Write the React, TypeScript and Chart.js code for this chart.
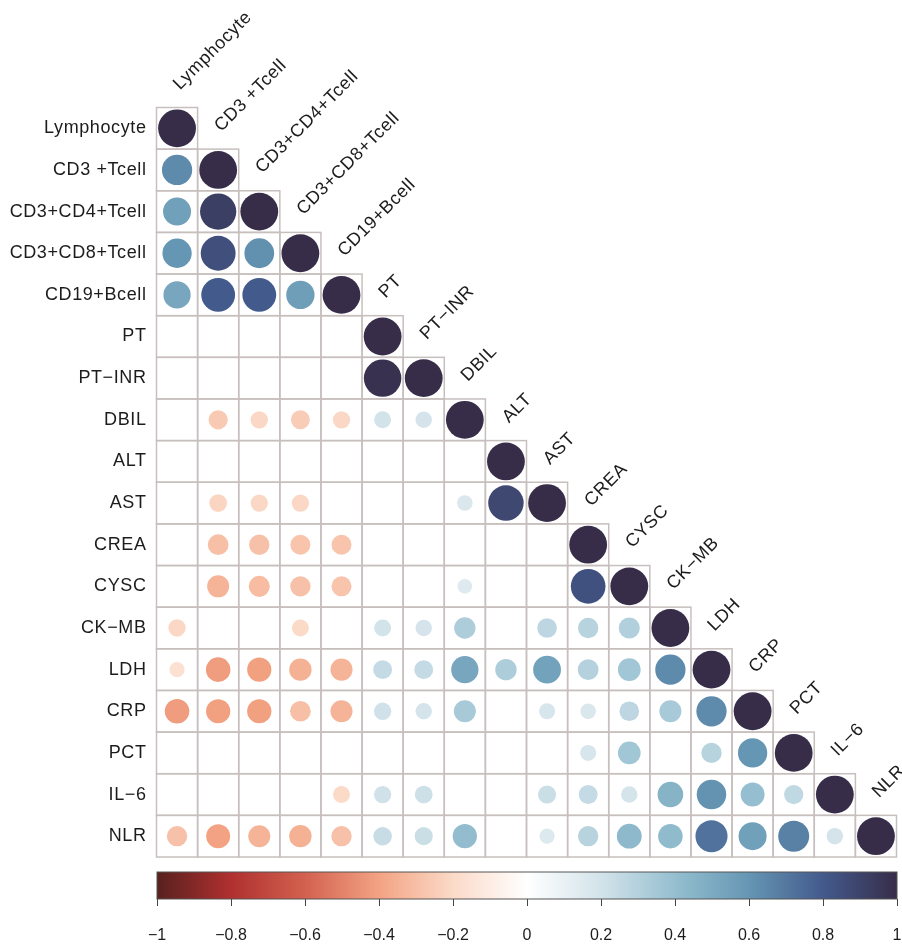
import React, { useEffect, useRef } from 'react';
import { Chart, registerables } from 'chart.js';

Chart.register(...registerables);

const variables: string[] = [
  'Lymphocyte', 'CD3 +Tcell', 'CD3+CD4+Tcell', 'CD3+CD8+Tcell', 'CD19+Bcell',
  'PT', 'PT\u2212INR', 'DBIL', 'ALT', 'AST', 'CREA', 'CYSC', 'CK\u2212MB',
  'LDH', 'CRP', 'PCT', 'IL\u22126', 'NLR',
];

const n = null;
// lower-triangular correlation rows (null = blank cell)
const corrRows: (number | null)[][] = [
  [1],
  [0.64, 1],
  [0.55, 0.92, 1],
  [0.6, 0.85, 0.62, 1],
  [0.52, 0.8, 0.8, 0.56, 1],
  [n, n, n, n, n, 1],
  [n, n, n, n, n, 0.98, 1],
  [n, -0.26, -0.21, -0.25, -0.21, 0.2, 0.19, 1],
  [n, n, n, n, n, n, n, n, 1],
  [n, -0.22, -0.21, -0.21, n, n, n, 0.17, 0.88, 1],
  [n, -0.3, -0.29, -0.28, -0.28, n, n, n, n, n, 1],
  [n, -0.34, -0.31, -0.29, -0.28, n, n, 0.15, n, n, 0.84, 1],
  [-0.21, n, n, -0.2, n, 0.2, 0.19, 0.32, n, 0.27, 0.29, 0.31, 1],
  [-0.16, -0.42, -0.41, -0.35, -0.34, 0.25, 0.25, 0.52, 0.32, 0.54, 0.3, 0.36, 0.64, 1],
  [-0.42, -0.41, -0.41, -0.3, -0.34, 0.21, 0.19, 0.34, n, 0.18, 0.17, 0.27, 0.34, 0.64, 1],
  [n, n, n, n, n, n, n, n, n, n, 0.18, 0.36, n, 0.29, 0.6, 1],
  [n, n, n, n, -0.2, 0.21, 0.22, n, n, 0.23, 0.25, 0.19, 0.46, 0.61, 0.4, 0.26, 1],
  [-0.29, -0.4, -0.34, -0.35, -0.29, 0.24, 0.23, 0.41, n, 0.16, 0.29, 0.43, 0.42, 0.72, 0.55, 0.67, 0.19, 1],
];

const colorbarTicks: number[] = [-1, -0.8, -0.6, -0.4, -0.2, 0, 0.2, 0.4, 0.6, 0.8, 1];

// palette stops from -1 to 1 (equal spacing)
const paletteStops: string[] = [
  '#57211f', '#b0302f', '#d3614f', '#f3a383', '#fbdac8', '#ffffff',
  '#d3e3ea', '#95bfd0', '#6596b3', '#435a8c', '#372d49',
];

const FONT = '"Liberation Sans", Arial, Helvetica, sans-serif';
const TEXT_COLOR = '#1c1c1c';

function hexToRgb(h: string): number[] {
  const s = h.replace('#', '');
  return [0, 2, 4].map((i) => parseInt(s.slice(i, i + 2), 16));
}

function colorFor(v: number): string {
  const t = ((Math.max(-1, Math.min(1, v)) + 1) / 2) * (paletteStops.length - 1);
  const i = Math.min(paletteStops.length - 2, Math.floor(t));
  const f = t - i;
  const a = hexToRgb(paletteStops[i]);
  const b = hexToRgb(paletteStops[i + 1]);
  const c = a.map((x, k) => Math.round(x + (b[k] - x) * f));
  return `rgb(${c[0]},${c[1]},${c[2]})`;
}

function fmtTick(v: number): string {
  const r = Math.round(v * 10) / 10;
  return String(r).replace('-', '\u2212');
}

function circleRadius(c: any): number {
  const xs = c.chart.scales.x;
  const cell = Math.abs(xs.getPixelForValue(1) - xs.getPixelForValue(0));
  const v = c.raw ? c.raw.v : 0;
  return cell * 0.46 * Math.sqrt(Math.abs(v));
}

const gridPlugin = {
  id: 'corrGrid',
  beforeDatasetsDraw(chart: any) {
    const { ctx } = chart;
    const xs = chart.scales.x;
    const ys = chart.scales.y;
    ctx.save();
    ctx.strokeStyle = '#c7bfbe';
    ctx.lineWidth = 1.5;
    corrRows.forEach((row, i) => {
      row.forEach((_v, j) => {
        const x0 = xs.getPixelForValue(j - 0.5);
        const x1 = xs.getPixelForValue(j + 0.5);
        const y0 = ys.getPixelForValue(i - 0.5);
        const y1 = ys.getPixelForValue(i + 0.5);
        ctx.strokeRect(x0, y0, x1 - x0, y1 - y0);
      });
    });
    ctx.restore();
  },
  afterDraw(chart: any) {
    const { ctx, chartArea } = chart;
    const xs = chart.scales.x;
    const ys = chart.scales.y;
    ctx.save();
    ctx.fillStyle = TEXT_COLOR;
    ctx.font = `18px ${FONT}`;
    try { (ctx as any).letterSpacing = '0.6px'; } catch (e) { /* ignore */ }
    // row labels
    ctx.textAlign = 'right';
    ctx.textBaseline = 'middle';
    variables.forEach((lab, i) => {
      ctx.fillText(lab, chartArea.left - 10, ys.getPixelForValue(i));
    });
    // diagonal (top) labels
    ctx.textAlign = 'left';
    ctx.textBaseline = 'alphabetic';
    variables.forEach((lab, j) => {
      const cx = xs.getPixelForValue(j);
      const top = ys.getPixelForValue(j - 0.5);
      ctx.save();
      ctx.translate(cx + 3, top - 17);
      ctx.rotate(-Math.PI / 4);
      ctx.fillText(lab, 0, 0);
      ctx.restore();
    });
    ctx.restore();
  },
};

const colorbarPlugin = {
  id: 'colorbar',
  beforeDatasetsDraw(chart: any) {
    const { ctx, chartArea } = chart;
    const g = ctx.createLinearGradient(chartArea.left, 0, chartArea.right, 0);
    paletteStops.forEach((c, i) => g.addColorStop(i / (paletteStops.length - 1), c));
    ctx.save();
    ctx.fillStyle = g;
    ctx.fillRect(chartArea.left, chartArea.top, chartArea.right - chartArea.left, chartArea.bottom - chartArea.top);
    ctx.strokeStyle = '#555555';
    ctx.lineWidth = 1;
    ctx.strokeRect(chartArea.left, chartArea.top, chartArea.right - chartArea.left, chartArea.bottom - chartArea.top);
    ctx.restore();
  },
};

export default function App() {
  const mainRef = useRef<HTMLCanvasElement | null>(null);
  const barRef = useRef<HTMLCanvasElement | null>(null);

  useEffect(() => {
    const points: { x: number; y: number; v: number }[] = [];
    corrRows.forEach((row, i) => {
      row.forEach((v, j) => {
        if (v !== null) points.push({ x: j, y: i, v });
      });
    });

    const main = new Chart(mainRef.current as HTMLCanvasElement, {
      type: 'scatter',
      data: {
        datasets: [
          {
            data: points as any,
            pointRadius: circleRadius,
            pointHoverRadius: circleRadius,
            pointBackgroundColor: (c: any) => colorFor(c.raw ? c.raw.v : 0),
            pointBorderWidth: 0,
            pointBorderColor: 'rgba(0,0,0,0)',
          } as any,
        ],
      },
      options: {
        animation: false,
        responsive: false,
        events: [],
        layout: { padding: { left: 156.5, top: 107.5, right: 5.5, bottom: 3 } },
        scales: {
          x: { type: 'linear', min: -0.5, max: 17.5, display: false },
          y: { type: 'linear', min: -0.5, max: 17.5, reverse: true, display: false },
        },
        plugins: { legend: { display: false }, tooltip: { enabled: false } },
      },
      plugins: [gridPlugin],
    });

    const bar = new Chart(barRef.current as HTMLCanvasElement, {
      type: 'scatter',
      data: { datasets: [] },
      options: {
        animation: false,
        responsive: false,
        events: [],
        layout: { autoPadding: false, padding: { left: 157, top: 12, right: 5, bottom: 0 } },
        scales: {
          x: {
            type: 'linear',
            min: colorbarTicks[0],
            max: colorbarTicks[colorbarTicks.length - 1],
            afterBuildTicks: (s: any) => {
              s.ticks = colorbarTicks.map((v) => ({ value: v }));
            },
            afterFit: (s: any) => {
              s.height = 47;
              s.paddingLeft = 0;
              s.paddingRight = 0;
            },
            ticks: {
              autoSkip: false,
              maxRotation: 0,
              padding: 20,
              color: TEXT_COLOR,
              font: { family: FONT, size: 16 },
              callback: (v: any) => fmtTick(Number(v)),
            },
            grid: { display: true, drawOnChartArea: false, drawTicks: true, tickLength: 7, color: '#444444', lineWidth: 1 },
            border: { display: false },
          },
          y: { display: false },
        },
        plugins: { legend: { display: false }, tooltip: { enabled: false } },
      } as any,
      plugins: [colorbarPlugin],
    });

    return () => {
      main.destroy();
      bar.destroy();
    };
  }, []);

  return (
    <div style={{ position: 'absolute', left: 0, top: 0, width: 902, height: 946, background: '#ffffff' }}>
      <canvas ref={mainRef} width={902} height={860} style={{ position: 'absolute', left: 0, top: 0, width: 902, height: 860 }} />
      <canvas ref={barRef} width={902} height={86} style={{ position: 'absolute', left: 0, top: 860, width: 902, height: 86 }} />
    </div>
  );
}
